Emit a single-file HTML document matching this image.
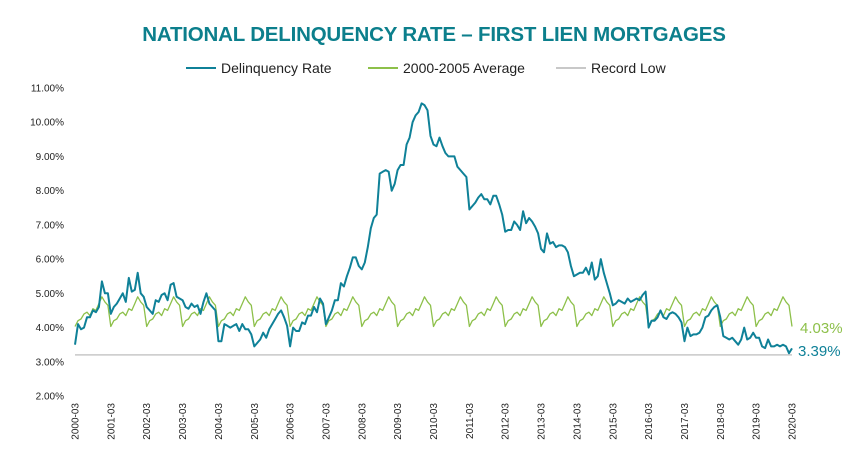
<!DOCTYPE html>
<html><head><meta charset="utf-8"><style>
html,body{margin:0;padding:0;background:#fff;}
svg{display:block;font-family:"Liberation Sans",sans-serif;}
</style></head><body>
<svg id="chart" width="865" height="465" viewBox="0 0 865 465">
<text x="434" y="41" text-anchor="middle" font-size="20.5" font-weight="bold" fill="#0c7f8c" letter-spacing="-0.2">NATIONAL DELINQUENCY RATE – FIRST LIEN MORTGAGES</text>
<g>
<g><line x1="186" y1="68" x2="216" y2="68" stroke="#0f8198" stroke-width="2"/><text x="221" y="73" font-size="14" fill="#222">Delinquency Rate</text></g>
<g><line x1="368" y1="68" x2="398" y2="68" stroke="#8dc04a" stroke-width="2"/><text x="403" y="73" font-size="14" fill="#222">2000-2005 Average</text></g>
<g><line x1="556" y1="68" x2="586" y2="68" stroke="#c8c8c8" stroke-width="2"/><text x="591" y="73" font-size="14" fill="#222">Record Low</text></g>
</g>
<g id="yaxis"></g>
<g id="xaxis"></g>
<g id="series"></g>
<text x="800" y="333" font-size="15" fill="#8dc04a">4.03%</text>
<text x="798" y="356" font-size="15" fill="#0f8198">3.39%</text>
</svg>
<script>
const yTicks=[2,3,4,5,6,7,8,9,10,11];
const xLabels=["2000-03","2001-03","2002-03","2003-03","2004-03","2005-03","2006-03","2007-03","2008-03","2009-03","2010-03","2011-03","2012-03","2013-03","2014-03","2015-03","2016-03","2017-03","2018-03","2019-03","2020-03"];
const delinquency=[
3.5,4.1,3.95,4.0,4.3,4.3,4.5,4.45,4.6,5.35,5.0,5.0,
4.4,4.6,4.7,4.85,5.0,4.75,5.45,5.05,5.1,5.6,5.0,4.9,
4.6,4.5,4.4,4.8,4.75,4.95,5.0,4.8,5.25,5.3,4.9,4.85,
4.8,4.6,4.55,4.7,4.6,4.65,4.4,4.75,5.0,4.7,4.6,4.5,
3.6,3.6,4.1,4.05,4.0,4.05,4.1,3.9,4.1,3.95,3.95,3.8,
3.45,3.55,3.65,3.85,3.7,3.95,4.1,4.25,4.4,4.5,4.3,4.05,
3.45,4.0,3.9,3.9,4.15,4.1,4.35,4.35,4.6,4.45,4.85,4.7,
4.1,4.3,4.5,4.8,4.8,5.3,5.2,5.5,5.75,6.05,6.05,5.8,
5.7,5.9,6.35,6.9,7.2,7.3,8.5,8.55,8.6,8.55,8.0,8.2,
8.6,8.75,8.75,9.35,9.55,10.0,10.2,10.3,10.55,10.5,10.35,9.6,
9.35,9.3,9.55,9.3,9.1,9.0,9.0,9.0,8.7,8.6,8.5,8.4,
7.45,7.55,7.65,7.8,7.9,7.75,7.75,7.6,7.85,7.85,7.6,7.3,
6.8,6.85,6.85,7.1,7.0,6.85,7.4,7.05,7.2,7.1,6.95,6.75,
6.3,6.2,6.75,6.45,6.5,6.35,6.4,6.4,6.35,6.2,5.8,5.5,
5.55,5.6,5.6,5.75,5.55,5.9,5.4,5.5,6.0,5.6,5.3,5.0,
4.65,4.7,4.8,4.75,4.7,4.85,4.75,4.8,4.85,4.8,4.95,5.05,
4.0,4.2,4.2,4.3,4.5,4.3,4.25,4.4,4.45,4.4,4.3,4.15,
3.6,4.0,3.75,3.8,3.8,3.85,4.0,4.3,4.35,4.5,4.6,4.65,
4.3,3.75,3.7,3.65,3.7,3.6,3.5,3.65,4.0,3.65,3.7,3.85,
3.7,3.7,3.45,3.4,3.65,3.45,3.45,3.5,3.45,3.5,3.45,3.25,
3.39];
const averageByMonth=[4.03,4.2,4.25,4.4,4.45,4.35,4.55,4.5,4.7,4.9,4.75,4.65];
const recordLow=[3.2];

const NS="http://www.w3.org/2000/svg";
const X0=75,X1=792,Y0=396,Y1=88,VMIN=2,VMAX=11;
const nMonths=(xLabels.length-1)*12;
function xScale(i){return X0+(X1-X0)*i/nMonths;}
function yScale(v){return Y0-(Y0-Y1)*(v-VMIN)/(VMAX-VMIN);}
function mk(tag,attrs,parent){const e=document.createElementNS(NS,tag);for(const k in attrs)e.setAttribute(k,attrs[k]);parent.appendChild(e);return e;}

const ya=document.getElementById('yaxis');
yTicks.forEach(t=>{
  const tx=mk('text',{x:64,y:yScale(t)+3.5,'text-anchor':'end','font-size':10,fill:'#222'},ya);
  tx.textContent=t.toFixed(2)+'%';
  
  
});
const xa=document.getElementById('xaxis');
xLabels.forEach((l,k)=>{
  const x=xScale(k*12);
  const tx=mk('text',{x:0,y:0,'text-anchor':'end','font-size':10,fill:'#222',transform:`translate(${x+3.5},403) rotate(-90)`},xa);
  tx.textContent=l;
  
  
});
const g=document.getElementById('series');
const rl=mk('line',{x1:X0,x2:X1,y1:yScale(recordLow[0]),y2:yScale(recordLow[0]),stroke:'#c8c8c8','stroke-width':1.5},g);



let avgPts=[];
for(let i=0;i<=nMonths;i++){avgPts.push(xScale(i).toFixed(1)+','+yScale(averageByMonth[i%12]).toFixed(1));}
const al=mk('polyline',{points:avgPts.join(' '),fill:'none',stroke:'#8dc04a','stroke-width':1.3,'stroke-linejoin':'round'},g);



const dPts=delinquency.map((v,i)=>xScale(i).toFixed(1)+','+yScale(v).toFixed(1));
const dl=mk('polyline',{points:dPts.join(' '),fill:'none',stroke:'#0f8198','stroke-width':2,'stroke-linejoin':'round'},g);


</script>
</body></html>
